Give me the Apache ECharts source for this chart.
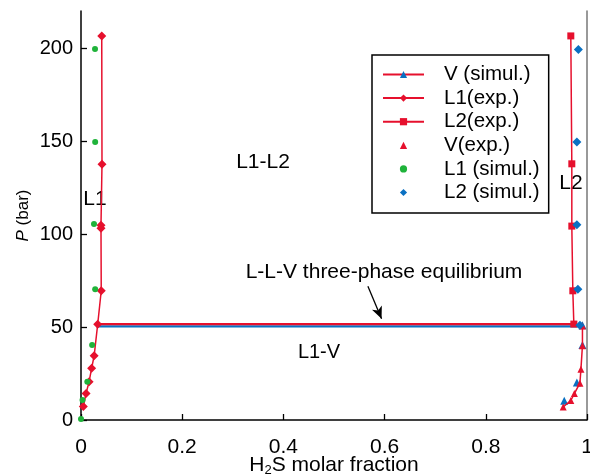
<!DOCTYPE html>
<html>
<head>
<meta charset="utf-8">
<script src="https://cdn.jsdelivr.net/npm/echarts@6/dist/echarts.min.js"></script>
<style>
html,body{margin:0;padding:0;background:#fff;}
#c{width:590px;height:476px;}
</style>
</head>
<body>
<div id="c"></div>
<script>
// ---- data (x: H2S molar fraction, y: P in bar) ----
var vSim = [[0.991,51.0],[0.991,40.3],[0.980,20.2],[0.955,10.4]];
var l1Exp = [[0.0046,7.2],[0.010,14.3],[0.016,20.6],[0.021,27.8],[0.026,34.6],[0.033,51.5],[0.040,69.5],[0.0395,103.2],[0.0395,104.8],[0.0415,137.6],[0.041,206.6]];
var l2Exp = [[0.974,51.6],[0.972,69.5],[0.970,104.3],[0.970,137.8],[0.968,206.6]];
var vExp = [[0.991,50.6],[0.991,40.0],[0.988,27.3],[0.986,19.8],[0.975,14.2],[0.968,10.5],[0.953,7.0]];
var l1Sim = [[0.0,0.6],[0.003,10.8],[0.0125,20.6],[0.022,40.3],[0.028,70.3],[0.0257,105.4],[0.028,149.6],[0.0277,199.5]];
var l2Sim = [[0.983,199.3],[0.980,149.6],[0.980,105.0],[0.982,70.3],[0.986,50.9]];
var tieExp = [[0.033,51.6],[0.974,51.6]];
var tieSim = [[0.031,50.4],[0.986,50.4]];
var arrowFrom = [0.567,72.0];
var arrowTo = [0.594,54.5];
var xTicks = [0,0.2,0.4,0.6,0.8,1];
var yTicks = [0,50,100,150,200];

var RED = '#e6102d', GREEN = '#1fb33a', BLUE = '#0a70c2';
var FONT = 'Liberation Sans, Arial, sans-serif';
var HIDDEN_LINE = {opacity: 0, width: 0};

var chart = echarts.init(document.getElementById('c'));
chart.setOption({
  animation: false,
  backgroundColor: '#fff',
  textStyle: {fontFamily: FONT},
  grid: {left: 81, right: 3, top: 11, bottom: 56, containLabel: false, outerBoundsMode: 'none'},
  xAxis: {
    type: 'value', min: 0, max: 1, interval: 0.2,
    name: '{xa|H}{xs|2}{xa|S molar fraction}', nameLocation: 'middle', nameGap: 45, nameMoveOverlap: false,
    nameTextStyle: {fontFamily: FONT, fontSize: 21, color: '#000', verticalAlign: 'middle', rich: {
      xa: {fontFamily: FONT, fontSize: 21, color: '#000', lineHeight: 22},
      xs: {fontFamily: FONT, fontSize: 13, color: '#000', lineHeight: 22, padding: [10,0,0,0]}
    }},
    axisLine: {lineStyle: {color: '#000', width: 1.5}},
    axisTick: {inside: true, length: 6, lineStyle: {color: '#000', width: 1.3}, customValues: xTicks},
    axisLabel: {fontFamily: FONT, fontSize: 21, color: '#000', margin: 17, customValues: xTicks,
      formatter: function(v){ return String(+v.toFixed(1)); }},
    splitLine: {show: false}
  },
  yAxis: [{
    type: 'value', min: 0, max: 220,
    name: '{yp|P}{yb| (bar)}', nameLocation: 'middle', nameGap: 49, nameMoveOverlap: false,
    nameTextStyle: {fontFamily: FONT, fontSize: 17, color: '#000', rich: {
      yp: {fontFamily: FONT, fontSize: 17, fontStyle: 'italic', color: '#000'},
      yb: {fontFamily: FONT, fontSize: 17, color: '#000'}
    }},
    axisLine: {lineStyle: {color: '#000', width: 1.5}},
    axisTick: {inside: true, length: 6, lineStyle: {color: '#000', width: 1.3}, customValues: yTicks},
    axisLabel: {fontFamily: FONT, fontSize: 20, color: '#000', margin: 8, customValues: yTicks},
    splitLine: {show: false}
  },{
    type: 'value', min: 0, max: 220, position: 'right',
    axisLine: {show: true, lineStyle: {color: '#777', width: 1.5}},
    axisTick: {show: false}, axisLabel: {show: false}, splitLine: {show: false}
  }],
  legend: {
    orient: 'vertical', left: 372, top: 55,
    padding: [9, 9, 10, 10],
    borderColor: '#000', borderWidth: 1.5,
    itemWidth: 41, itemHeight: 9, itemGap: 2.6,
    textStyle: {fontFamily: FONT, fontSize: 20.5, color: '#000', lineHeight: 21, padding: [0,0,0,15]},
    data: [
      {name: 'V (simul.)', lineStyle: {color: RED, width: 2, opacity: 1}},
      {name: 'L1(exp.)'},
      {name: 'L2(exp.)'},
      {name: 'V(exp.)', lineStyle: {opacity: 0}},
      {name: 'L1 (simul.)', lineStyle: {opacity: 0}},
      {name: 'L2 (simul.)', lineStyle: {opacity: 0}}
    ]
  },
  series: [
    {name: 'tieSim', type: 'line', data: tieSim, symbol: 'none', lineStyle: {color: BLUE, width: 2.2}, z: 1},
    {name: 'tieExp', type: 'line', data: tieExp, symbol: 'none', lineStyle: {color: RED, width: 2.2}, z: 1,
      markLine: {silent: true, symbol: ['none','arrow'], symbolSize: [8,12], label: {show: false},
        lineStyle: {color: '#000', width: 1.3, type: 'solid'},
        data: [[{coord: arrowFrom}, {coord: arrowTo}]]}},
    {name: 'V (simul.)', type: 'line', data: vSim, symbol: 'triangle', symbolSize: 8,
      itemStyle: {color: BLUE}, lineStyle: HIDDEN_LINE, z: 3},
    {name: 'L1(exp.)', type: 'line', data: l1Exp, symbol: 'diamond', symbolSize: 9,
      itemStyle: {color: RED}, lineStyle: {color: RED, width: 1.5}, z: 4},
    {name: 'L2(exp.)', type: 'line', data: l2Exp, symbol: 'rect', symbolSize: 7,
      itemStyle: {color: RED}, lineStyle: {color: RED, width: 1.5}, z: 4},
    {name: 'V(exp.)', type: 'line', data: vExp, symbol: 'triangle', symbolSize: 7,
      itemStyle: {color: RED}, lineStyle: {color: RED, width: 1.5}, z: 4},
    {name: 'L1 (simul.)', type: 'line', data: l1Sim, symbol: 'circle', symbolSize: 6,
      itemStyle: {color: GREEN}, lineStyle: HIDDEN_LINE, z: 5},
    {name: 'L2 (simul.)', type: 'line', data: l2Sim, symbol: 'diamond', symbolSize: 9,
      itemStyle: {color: BLUE}, lineStyle: HIDDEN_LINE, z: 5}
  ],
  graphic: [
    {type: 'text', x: 95, y: 199, style: {text: 'L1', font: '21px ' + FONT, fill: '#000', align: 'center', verticalAlign: 'middle'}},
    {type: 'text', x: 263, y: 162, style: {text: 'L1-L2', font: '21px ' + FONT, fill: '#000', align: 'center', verticalAlign: 'middle'}},
    {type: 'text', x: 571, y: 183, style: {text: 'L2', font: '21px ' + FONT, fill: '#000', align: 'center', verticalAlign: 'middle'}},
    {type: 'text', x: 384, y: 272, style: {text: 'L-L-V three-phase equilibrium', font: '21px ' + FONT, fill: '#000', align: 'center', verticalAlign: 'middle'}},
    {type: 'text', x: 319, y: 352, style: {text: 'L1-V', font: '20px ' + FONT, fill: '#000', align: 'center', verticalAlign: 'middle'}}
  ]
});
</script>
</body>
</html>
